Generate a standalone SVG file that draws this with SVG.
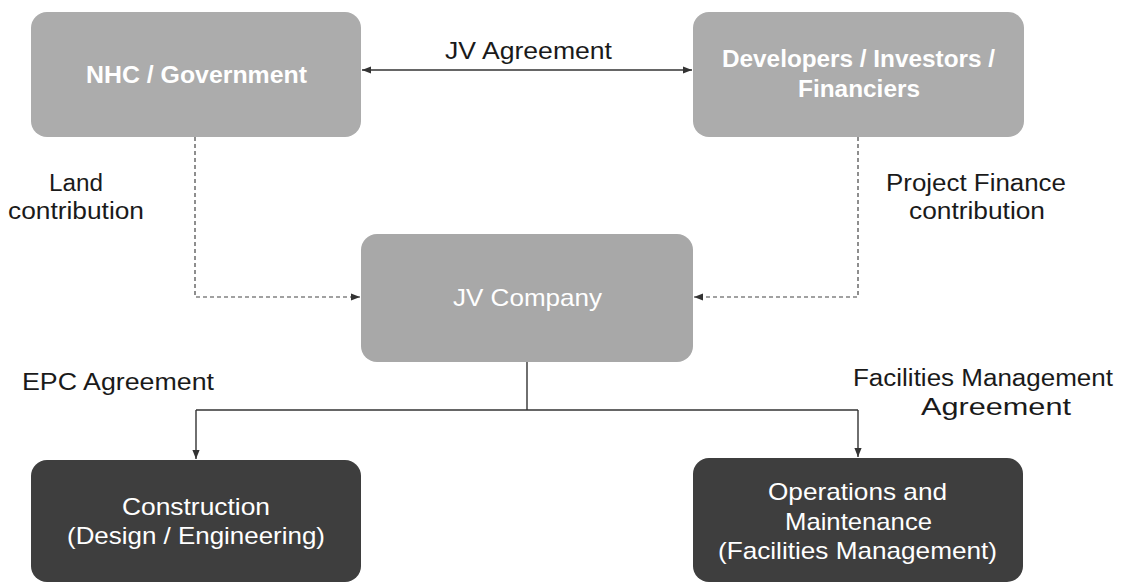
<svg xmlns="http://www.w3.org/2000/svg" width="1123" height="583" viewBox="0 0 1123 583">
<style>
.light{fill:#acacac}
.mid{fill:#a8a8a8}
.dark{fill:#3e3e3e}
.bt{font-family:"Liberation Sans",Arial,sans-serif;font-size:24px;fill:#ffffff;text-anchor:middle}
.bb{font-weight:bold;font-size:23px}
.lb{font-family:"Liberation Sans",Arial,sans-serif;font-size:23px;fill:#1a1a1a;text-anchor:middle}
.solid{stroke:#333;stroke-width:1.4;fill:none}
.dash{stroke:#444;stroke-width:1.2;fill:none;stroke-dasharray:4 3}
</style>
<defs>
<marker id="ah" viewBox="0 0 10 10" refX="10" refY="5" markerWidth="9" markerHeight="9" markerUnits="userSpaceOnUse" orient="auto-start-reverse">
<path d="M0,1 L10,5 L0,9 z" fill="#333"/>
</marker>
</defs>
<rect width="1123" height="583" fill="#ffffff"/>
<g id="nhc"><rect class="light" x="31" y="12" width="330" height="125" rx="16"/><text class="bt bb" x="196.5" y="83" textLength="221" lengthAdjust="spacingAndGlyphs">NHC / Government</text></g>
<g id="dev"><rect class="light" x="693" y="12" width="331" height="125" rx="16"/><text class="bt bb" x="858.5" y="67" textLength="273" lengthAdjust="spacingAndGlyphs">Developers / Investors /</text><text class="bt bb" x="859" y="97" textLength="122" lengthAdjust="spacingAndGlyphs">Financiers</text></g>
<g id="jv"><rect class="mid" x="361" y="234" width="332" height="128" rx="16"/><text class="bt" x="527.5" y="306" textLength="149" lengthAdjust="spacingAndGlyphs">JV Company</text></g>
<g id="con"><rect class="dark" x="31" y="460" width="330" height="122" rx="16"/><text class="bt" x="196" y="515" textLength="148" lengthAdjust="spacingAndGlyphs">Construction</text><text class="bt" x="196" y="544" textLength="258" lengthAdjust="spacingAndGlyphs">(Design / Engineering)</text></g>
<g id="om"><rect class="dark" x="693" y="458" width="330" height="124" rx="16"/><text class="bt" x="857.5" y="500" textLength="179" lengthAdjust="spacingAndGlyphs">Operations and</text><text class="bt" x="858.5" y="530" textLength="147" lengthAdjust="spacingAndGlyphs">Maintenance</text><text class="bt" x="857.5" y="559" textLength="279" lengthAdjust="spacingAndGlyphs">(Facilities Management)</text></g>
<g id="connectors">
<line class="solid" x1="362" y1="70" x2="692" y2="70" marker-start="url(#ah)" marker-end="url(#ah)"/>
<polyline class="dash" points="195,137 195,297 360,297" marker-end="url(#ah)"/>
<polyline class="dash" points="858,137 858,297 694,297" marker-end="url(#ah)"/>
<polyline class="solid" points="527,362 527,410"/>
<polyline class="solid" points="196,410 858,410"/>
<line class="solid" x1="196" y1="410" x2="196" y2="459" marker-end="url(#ah)"/>
<line class="solid" x1="858" y1="410" x2="858" y2="457" marker-end="url(#ah)"/>
</g>
<g id="labels">
<text class="lb" x="528.5" y="59" textLength="167" lengthAdjust="spacingAndGlyphs">JV Agreement</text>
<text class="lb" x="76" y="191" textLength="54" lengthAdjust="spacingAndGlyphs">Land</text>
<text class="lb" x="76" y="219" textLength="136" lengthAdjust="spacingAndGlyphs">contribution</text>
<text class="lb" x="976" y="191" textLength="180" lengthAdjust="spacingAndGlyphs">Project Finance</text>
<text class="lb" x="977" y="219" textLength="136" lengthAdjust="spacingAndGlyphs">contribution</text>
<text class="lb" x="118" y="390" textLength="192" lengthAdjust="spacingAndGlyphs">EPC Agreement</text>
<text class="lb" x="983" y="386" textLength="260" lengthAdjust="spacingAndGlyphs">Facilities Management</text>
<text class="lb" x="996" y="415" textLength="150" lengthAdjust="spacingAndGlyphs">Agreement</text>
</g>
</svg>
